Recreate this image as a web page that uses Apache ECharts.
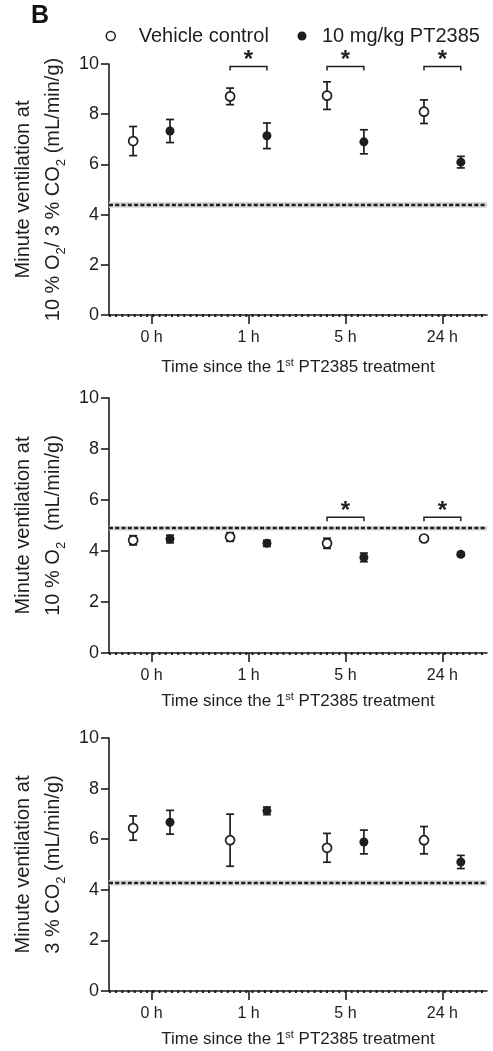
<!DOCTYPE html>
<html>
<head>
<meta charset="utf-8">
<title>Minute ventilation</title>
<script src="https://cdn.jsdelivr.net/npm/echarts@6/dist/echarts.min.js"></script>
<style>
  html, body { margin: 0; padding: 0; background: #fff; }
  #container { width: 493px; height: 1051px; }
</style>
</head>
<body>
<div id="container"></div>
<script>
  // categories / ticks
  const categories = ['0 h', '1 h', '5 h', '24 h'];
  const tickValues = [0, 1, 2, 3];

  // panel 1: 10 % O2 / 3 % CO2
  const p1Vehicle = [6.93, 8.71, 8.74, 8.10];
  const p1VehicleSem = [0.58, 0.33, 0.55, 0.47];
  const p1Drug = [7.33, 7.14, 6.90, 6.09];
  const p1DrugSem = [0.46, 0.51, 0.48, 0.23];
  const p1Baseline = [4.38, 4.27, 4.50]; // mean, low, high
  const p1Sig = [1, 2, 3];
  const p1SigY = 9.9;

  // panel 2: 10 % O2
  const p2Vehicle = [4.42, 4.55, 4.30, 4.49];
  const p2VehicleSem = [0.18, 0.17, 0.2, 0.05];
  const p2Drug = [4.47, 4.30, 3.75, 3.87];
  const p2DrugSem = [0.15, 0.12, 0.17, 0.07];
  const p2Baseline = [4.90, 4.80, 4.98];
  const p2Sig = [2, 3];
  const p2SigY = 5.32;

  // panel 3: 3 % CO2
  const p3Vehicle = [6.44, 5.96, 5.66, 5.96];
  const p3VehicleSem = [0.48, 1.03, 0.57, 0.54];
  const p3Drug = [6.67, 7.12, 5.89, 5.10];
  const p3DrugSem = [0.47, 0.15, 0.47, 0.26];
  const p3Baseline = [4.28, 4.17, 4.38];
  const p3Sig = [];
  const p3SigY = 0;

  const FONT = '"Liberation Sans", Arial, sans-serif';
  const INK = '#1e1e1e';
  const SHIFT = 0.19; // horizontal dodge of the two groups

  const myChart = echarts.init(document.getElementById('container'), null, { renderer: 'canvas' });

  function errorBar(params, api) {
    const x = api.value(0), y = api.value(1), e = api.value(2);
    const top = api.coord([x, y + e]);
    const bot = api.coord([x, y - e]);
    const st = { stroke: INK, lineWidth: 1.7 };
    return {
      type: 'group',
      children: [
        { type: 'line', shape: { x1: top[0], y1: top[1], x2: bot[0], y2: bot[1] }, style: st },
        { type: 'line', shape: { x1: top[0] - 4, y1: top[1], x2: top[0] + 4, y2: top[1] }, style: st },
        { type: 'line', shape: { x1: bot[0] - 4, y1: bot[1], x2: bot[0] + 4, y2: bot[1] }, style: st }
      ]
    };
  }

  function bracket(params, api) {
    const a = api.coord([api.value(0), api.value(2)]);
    const b = api.coord([api.value(1), api.value(2)]);
    return {
      type: 'group',
      children: [
        {
          type: 'polyline',
          shape: { points: [[a[0], a[1] + 4], [a[0], a[1]], [b[0], b[1]], [b[0], b[1] + 4]] },
          style: { stroke: INK, lineWidth: 1.5, fill: null }
        },
        {
          type: 'text', x: (a[0] + b[0]) / 2, y: a[1] + 6,
          style: { text: '*', fill: INK, font: 'bold 24px ' + FONT, textAlign: 'center', textVerticalAlign: 'bottom' }
        }
      ]
    };
  }

  const grids = [
    { left: 107, right: 6, top: 64, height: 251 },
    { left: 107, right: 6, top: 398, height: 255 },
    { left: 107, right: 6, top: 738, height: 253 }
  ];
  const xNameGaps = [42, 38, 38];
  const yNames = [
    'Minute ventilation at\n10 % O{sub|2}/ 3 % CO{sub|2} (mL/min/g)',
    'Minute ventilation at\n10 % O{sub|2}  (mL/min/g)',
    'Minute ventilation at\n3 % CO{sub|2} (mL/min/g)'
  ];

  const xAxes = grids.map((g, i) => ({
    gridIndex: i,
    type: 'value',
    min: -0.44,
    max: 3.46,
    name: 'Time since the 1{sup|st} PT2385 treatment',
    nameLocation: 'middle',
    nameGap: xNameGaps[i],
    nameTextStyle: {
      color: INK, fontFamily: FONT, fontSize: 17, lineHeight: 20,
      rich: { sup: { fontSize: 11, lineHeight: 11, verticalAlign: 'top', fontFamily: FONT, color: INK } }
    },
    splitLine: { show: false },
    axisLine: { onZero: false, lineStyle: { color: INK, width: 1.6 } },
    axisTick: { customValues: tickValues, length: 9, lineStyle: { color: INK, width: 1.6 } },
    axisLabel: {
      customValues: tickValues,
      formatter: (v) => categories[Math.round(v)],
      color: INK, fontFamily: FONT, fontSize: 16, margin: 15
    }
  }));

  const yAxes = grids.map((g, i) => ({
    gridIndex: i,
    type: 'value',
    min: 0,
    max: 10,
    interval: 2,
    name: yNames[i],
    nameLocation: 'middle',
    nameGap: 34,
    nameTextStyle: {
      color: INK, fontFamily: FONT, fontSize: 20, lineHeight: 30,
      rich: { sub: { fontSize: 13, lineHeight: 16, verticalAlign: 'bottom', fontFamily: FONT, color: INK } }
    },
    splitLine: { show: false },
    axisLine: { show: true, onZero: false, lineStyle: { color: INK, width: 1.6 } },
    axisTick: { show: true, length: 8, lineStyle: { color: INK, width: 1.6 } },
    axisLabel: { color: INK, fontFamily: FONT, fontSize: 18, margin: 10 }
  }));

  const panels = [
    [p1Vehicle, p1VehicleSem, p1Drug, p1DrugSem, p1Baseline, p1Sig, p1SigY],
    [p2Vehicle, p2VehicleSem, p2Drug, p2DrugSem, p2Baseline, p2Sig, p2SigY],
    [p3Vehicle, p3VehicleSem, p3Drug, p3DrugSem, p3Baseline, p3Sig, p3SigY]
  ];

  const series = [];
  panels.forEach((p, i) => {
    const [veh, vehSem, drug, drugSem, base, sig, sigY] = p;
    const axes = { xAxisIndex: i, yAxisIndex: i };
    series.push({
      type: 'custom', ...axes, z: 2, silent: true,
      renderItem: errorBar,
      encode: { x: 0, y: 1 },
      data: veh.map((v, k) => [k - SHIFT, v, vehSem[k]]),
      markArea: {
        silent: true,
        itemStyle: { color: '#d6d6d6' },
        data: [[{ yAxis: base[1] }, { yAxis: base[2] }]]
      },
      markLine: {
        silent: true,
        symbol: 'none',
        label: { show: false },
        data: [
          { yAxis: base[0], lineStyle: { color: INK, width: 2.4, type: [4, 2.3] } },
          { yAxis: 0, lineStyle: { color: INK, width: 3, type: [2, 4.2] } }
        ]
      }
    });
    series.push({
      type: 'custom', ...axes, z: 2, silent: true,
      renderItem: errorBar,
      encode: { x: 0, y: 1 },
      data: drug.map((v, k) => [k + SHIFT, v, drugSem[k]])
    });
    series.push({
      type: 'scatter', ...axes, z: 3, name: 'Vehicle control',
      symbol: 'circle', symbolSize: 9,
      itemStyle: { color: '#fff', borderColor: INK, borderWidth: 1.7, opacity: 1 },
      data: veh.map((v, k) => [k - SHIFT, v])
    });
    series.push({
      type: 'scatter', ...axes, z: 3, name: '10 mg/kg PT2385',
      symbol: 'circle', symbolSize: 9,
      itemStyle: { color: INK, opacity: 1 },
      data: drug.map((v, k) => [k + SHIFT, v])
    });
    if (sig.length) {
      series.push({
        type: 'custom', ...axes, z: 3, silent: true,
        renderItem: bracket,
        encode: { x: 0, y: 2 },
        data: sig.map((k) => [k - SHIFT, k + SHIFT, sigY])
      });
    }
  });

  function legendStyle(gap) {
    return {
      color: INK, fontFamily: FONT, fontSize: 20,
      rich: { g: { width: gap } }
    };
  }
  const option = {
    animation: false,
    backgroundColor: '#fff',
    graphic: [
      { type: 'text', left: 31, top: 4, style: { text: 'B', font: 'bold 25px ' + FONT, fill: '#111' } }
    ],
    legend: [
      {
        left: 105.5, top: 26, padding: 0, itemWidth: 9, itemHeight: 9, selectedMode: false,
        formatter: (name) => '{g|}' + name,
        textStyle: legendStyle(18.5),
        data: [{ name: 'Vehicle control', icon: 'circle', itemStyle: { color: '#fff', borderColor: INK, borderWidth: 1.5 } }]
      },
      {
        left: 297.5, top: 26, padding: 0, itemWidth: 9, itemHeight: 9, selectedMode: false,
        formatter: (name) => '{g|}' + name,
        textStyle: legendStyle(10.5),
        data: [{ name: '10 mg/kg PT2385', icon: 'circle', itemStyle: { color: INK } }]
      }
    ],
    grid: grids,
    xAxis: xAxes,
    yAxis: yAxes,
    series: series
  };

  myChart.setOption(option);
  window.addEventListener('resize', () => myChart.resize());
</script>
</body>
</html>
